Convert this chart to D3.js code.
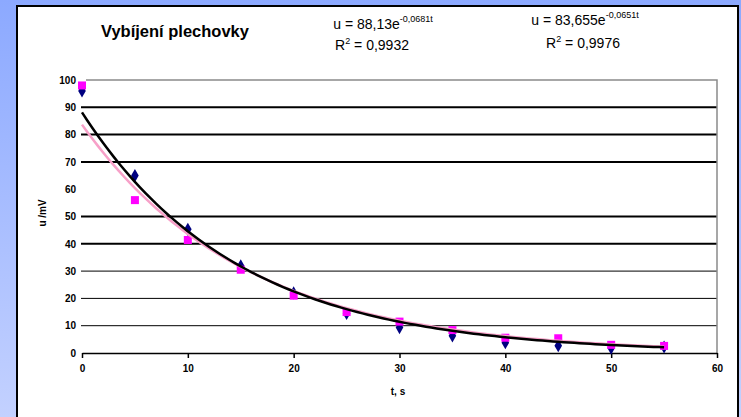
<!DOCTYPE html>
<html>
<head>
<meta charset="utf-8">
<script src="https://cdn.jsdelivr.net/npm/d3@7"></script>
<style>
  html, body { margin: 0; padding: 0; }
  body { width: 741px; height: 417px; overflow: hidden; }
  text { font-family: "Liberation Sans", Arial, sans-serif; }
</style>
</head>
<body>
<div id="chart"></div>
<script>
// measured data (t in s, u in mV)
const times = [0, 5, 10, 15, 20, 25, 30, 35, 40, 45, 50, 55];
const uBlue = [96, 65, 45.3, 31.9, 22, 14.5, 9.3, 6.3, 3.8, 2.7, 1.8, 2.2];
const uPink = [98, 56, 41.4, 30.5, 21, 15, 11.5, 8.4, 5.6, 5.4, 3.0, 2.6];

// exponential trendlines  u = a * e^(b t)
const trendA = [88.13, 83.655];
const trendB = [-0.0681, -0.0651];
const trendColors = ["#000000", "#f7a0c8"];
const eqText = ["u = 88,13e", "u = 83,655e"];
const eqExp = ["-0,0681t", "-0,0651t"];
const r2Text = ["0,9932", "0,9976"];

const xTicks = [0, 10, 20, 30, 40, 50, 60];
const yTicks = [0, 10, 20, 30, 40, 50, 60, 70, 80, 90, 100];

const width = 741, height = 417;
const svg = d3.select("#chart").append("svg")
  .attr("width", width).attr("height", height);

// blue gradient backdrop
const grad = svg.append("defs").append("linearGradient")
  .attr("id", "bg").attr("x1", 0).attr("y1", 0).attr("x2", 0).attr("y2", 1);
grad.append("stop").attr("offset", "0%").attr("stop-color", "#8ca9ff");
grad.append("stop").attr("offset", "100%").attr("stop-color", "#c3d1ff");
svg.append("rect").attr("width", width).attr("height", height).attr("fill", "url(#bg)");

// white chart panel
svg.append("rect")
  .attr("x", 17).attr("y", 6).attr("width", 721).attr("height", 430)
  .attr("fill", "#fff").attr("stroke", "#000").attr("stroke-width", 2);

const x = d3.scaleLinear().domain([0, 60]).range([82, 717]);
const y = d3.scaleLinear().domain([0, 100]).range([353, 80]);

// gridlines (the 60 line is not visible in the original)
svg.append("g").selectAll("line")
  .data(yTicks.filter(d => d > 0 && d < 100 && d !== 60))
  .join("line")
  .attr("x1", 81).attr("x2", x(60))
  .attr("y1", d => y(d)).attr("y2", d => y(d))
  .attr("stroke", "#000")
  .attr("stroke-width", d => d >= 40 ? 2 : 1);

// plot-area border top/right (gray)
svg.append("path")
  .attr("d", `M${x(0) + 4},${y(100)}H${x(60)}V${y(0)}`)
  .attr("fill", "none").attr("stroke", "#8a8a8a").attr("stroke-width", 1.5);

// x axis
const xAxis = svg.append("g")
  .attr("transform", `translate(0,${y(0)})`)
  .call(d3.axisBottom(x).tickValues(xTicks).tickSize(5).tickPadding(7).tickSizeOuter(0));
xAxis.select(".domain").attr("stroke", "#000").attr("stroke-width", 1.5);
xAxis.selectAll(".tick line").attr("stroke", "#000").attr("stroke-width", 1.5);
xAxis.selectAll("text").attr("font-size", 10).attr("font-weight", "bold")
  .attr("font-family", "\"Liberation Sans\", Arial, sans-serif").attr("fill", "#000");

// y axis labels only
const yAxis = svg.append("g")
  .attr("transform", `translate(${x(0)},0)`)
  .call(d3.axisLeft(y).tickValues(yTicks).tickSize(0).tickPadding(6));
yAxis.select(".domain").remove();
yAxis.selectAll(".tick line").remove();
yAxis.selectAll("text").attr("font-size", 10).attr("font-weight", "bold")
  .attr("font-family", "\"Liberation Sans\", Arial, sans-serif").attr("fill", "#000");

// axis titles
svg.append("text").attr("x", 398).attr("y", 395).attr("text-anchor", "middle")
  .attr("font-size", 10).attr("font-weight", "bold").text("t, s");
svg.append("text").attr("transform", "translate(46,213) rotate(-90)")
  .attr("text-anchor", "middle").attr("font-size", 10).attr("font-weight", "bold").text("u /mV");

// markers
svg.append("g").selectAll("path")
  .data(times.map((t, i) => [t, uBlue[i]]))
  .join("path")
  .attr("transform", d => `translate(${x(d[0])},${y(d[1])})`)
  .attr("d", d3.symbol(d3.symbolDiamond, 50))
  .attr("fill", "#000080");

svg.append("g").selectAll("rect")
  .data(times.map((t, i) => [t, uPink[i]]))
  .join("rect")
  .attr("x", d => x(d[0]) - 4).attr("y", d => y(d[1]) - 4)
  .attr("width", 8).attr("height", 8)
  .attr("fill", "#ff00ff");

// trendlines
const tSamples = d3.range(0, 55.01, 0.5);
const line = d3.line().x(d => x(d[0])).y(d => y(d[1]));
[1, 0].forEach(k => {
  svg.append("path")
    .datum(tSamples.map(t => [t, trendA[k] * Math.exp(trendB[k] * t)]))
    .attr("d", line)
    .attr("fill", "none")
    .attr("stroke", trendColors[k])
    .attr("stroke-width", 2.5);
});

// title and equations
svg.append("text").attr("x", 101).attr("y", 37)
  .attr("font-size", 16.5).attr("font-weight", "bold").text("Vybíjení plechovky");

const eqPos = [[383, 29, 372, 50], [585, 25, 583, 48]];
eqPos.forEach((p, i) => {
  const t = svg.append("text").attr("x", p[0]).attr("y", p[1])
    .attr("text-anchor", "middle").attr("font-size", 14);
  t.append("tspan").text(eqText[i]);
  t.append("tspan").attr("dy", -7).attr("font-size", 9).text(eqExp[i]);
  const r = svg.append("text").attr("x", p[2]).attr("y", p[3])
    .attr("text-anchor", "middle").attr("font-size", 14);
  r.append("tspan").text("R");
  r.append("tspan").attr("dy", -6).attr("font-size", 9).text("2");
  r.append("tspan").attr("dy", 6).text(" = " + r2Text[i]);
});
</script>
</body>
</html>
